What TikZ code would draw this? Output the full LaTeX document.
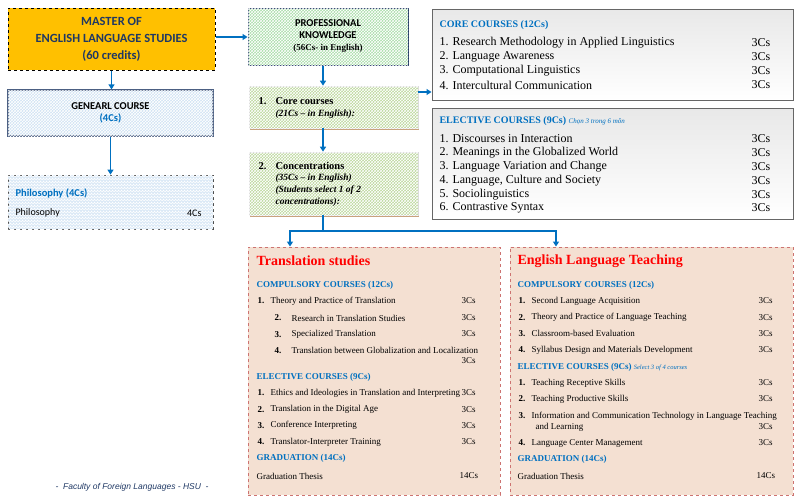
\documentclass[tikz,border=0pt]{standalone}
\usepackage{fontspec}
\setmainfont{Liberation Serif}
\newfontfamily\calib{Carlito}
\newfontfamily\arialf{Liberation Sans}
\usetikzlibrary{positioning,patterns,shadows,arrows.meta}

\definecolor{hsublue}{HTML}{0070C0}
\definecolor{navyblue}{HTML}{1F3864}
\definecolor{masterfill}{HTML}{FFC000}
\definecolor{bluefill}{HTML}{CFE2F3}
\definecolor{profgreen}{HTML}{A9DDA9}
\definecolor{coregreen}{HTML}{BCD79C}
\definecolor{peach}{HTML}{F4E0D2}
\definecolor{peachedge}{HTML}{C0504D}
\definecolor{tanedge}{HTML}{C9A27E}
\definecolor{titlered}{HTML}{FF0000}

\tikzset{
  link/.style={draw=hsublue, line width=1.4pt, -{Triangle[length=5pt,width=6pt]}},
  plainlink/.style={draw=hsublue, line width=1.4pt},
  weave/.style={postaction={pattern=crosshatch, pattern color=white, fill opacity=0.55}},
  masterbox/.style={draw=black, dashed, line width=1pt, fill=masterfill,
    text=navyblue, align=center, font=\calib\bfseries\fontsize{12.5}{17}\selectfont},
  generalbox/.style={draw=navyblue!80, line width=1.2pt, fill=bluefill, weave, align=center},
  philobox/.style={draw=black!70, dashed, line width=0.8pt, fill=bluefill!75, weave},
  profbox/.style={draw=navyblue, line width=1pt, fill=profgreen, weave, align=center},
  stagebox/.style={draw=black!15, line width=0.6pt, fill=coregreen, weave,
    drop shadow={shadow xshift=1.2pt, shadow yshift=-1.8pt, fill=tanedge, opacity=1}},
  listbox/.style={draw=black!60, line width=1pt, top color=black!9, bottom color=white},
  trackbox/.style={draw=peachedge!80, dashed, line width=0.9pt, fill=peach},
  listhead/.style={anchor=west, text=hsublue, font=\bfseries\fontsize{10}{12}\selectfont},
  boxhead/.style={anchor=west, text=hsublue, font=\bfseries\fontsize{9}{11}\selectfont},
  courseitem/.style={anchor=west, font=\fontsize{12}{14}\selectfont},
  trackitem/.style={anchor=west, font=\fontsize{9}{11}\selectfont},
  tracknum/.style={anchor=west, font=\bfseries\fontsize{9}{11}\selectfont},
  tracktitle/.style={anchor=west, text=titlered, font=\bfseries\fontsize{14}{16}\selectfont}
}

\begin{document}
\begin{tikzpicture}[x=1pt,y=-1pt]
  \useasboundingbox (0,0) rectangle (800,501);

  % left column
  \node[masterbox, minimum width=207pt, minimum height=62pt] (master) at (111.5,39)
    {MASTER OF\\ENGLISH LANGUAGE STUDIES\\(60 credits)};
  \node[generalbox, minimum width=205pt, minimum height=46pt] (general) at (110.5,113)
    {\calib\bfseries\fontsize{10.5}{17}\selectfont GENEARL COURSE\\
     \calib\bfseries\fontsize{10.5}{17}\selectfont\color{hsublue}(4Cs)};
  \node[philobox, minimum width=205pt, minimum height=54pt] (philo) at (110.5,202) {};
  \node[anchor=west, text=hsublue, font=\calib\bfseries\fontsize{10.5}{12}\selectfont]
    (philohead) at (12,193) {Philosophy (4Cs)};
  \node[anchor=west, font=\calib\fontsize{10}{12}\selectfont] (philoitem) at (12,213) {Philosophy};
  \node[anchor=east, font=\calib\fontsize{10}{12}\selectfont] (philocs) at (205,213) {4Cs};

  % middle column
  \node[profbox, minimum width=160pt, minimum height=57pt] (prof) at (328,36.5)
    {\calib\bfseries\fontsize{10.5}{15}\selectfont PROFESSIONAL\\
     \calib\bfseries\fontsize{10.5}{15}\selectfont KNOWLEDGE\\
     \bfseries\fontsize{9}{12}\selectfont (56Cs- in English)};
  \node[stagebox, minimum width=169pt, minimum height=42pt] (core) at (333.5,107) {};
  \node[anchor=west, font=\bfseries\fontsize{10.5}{12}\selectfont] (corenum) at (255,101) {1.};
  \node[anchor=west, font=\bfseries\fontsize{10.5}{12}\selectfont] (corehead) at (272,101) {Core courses};
  \node[anchor=west, font=\bfseries\itshape\fontsize{9.5}{11}\selectfont] (coresub) at (272,114) {(21Cs – in English):};
  \node[stagebox, minimum width=169pt, minimum height=63pt] (conc) at (333.5,183.5) {};
  \node[anchor=west, font=\bfseries\fontsize{10.5}{12}\selectfont] (concnum) at (255,166) {2.};
  \node[anchor=north west, align=left, font=\bfseries\fontsize{10.5}{12}\selectfont] (conchead) at (272,159)
    {Concentrations\\[-1pt]
     \itshape\fontsize{9.5}{13}\selectfont (35Cs – in English)\\
     \itshape\fontsize{9.5}{13}\selectfont (Students select 1 of 2\\
     \itshape\fontsize{9.5}{13}\selectfont concentrations):};

  % core and elective lists
  \node[listbox, minimum width=361pt, minimum height=91pt] (corebox) at (612.5,54.5) {};
  \node[listhead] (corelisthead) at (436,25) {CORE COURSES (12Cs)};
  \foreach \t [count=\i] in {Research Methodology in Applied Linguistics, Language Awareness,
      Computational Linguistics, Intercultural Communication} {
    \node[courseitem] (core\i) at (436,43+14*\i-14) {\i. \t};
    \node[courseitem] (corecs\i) at (748,43+14*\i-14) {3Cs};
  }
  \node[listbox, minimum width=361pt, minimum height=111pt] (elecbox) at (612.5,163.5) {};
  \node[listhead] (eleclisthead) at (436,121)
    {ELECTIVE COURSES (9Cs) \mdseries\itshape\fontsize{7}{8}\selectfont Chọn 3 trong 6 môn};
  \foreach \t [count=\i] in {Discourses in Interaction, Meanings in the Globalized World,
      Language Variation and Change, {Language, Culture and Society}, Sociolinguistics,
      Contrastive Syntax} {
    \node[courseitem] (elec\i) at (436,139+13.8*\i-13.8) {\i. \t};
    \node[courseitem] (eleccs\i) at (748,139+13.8*\i-13.8) {3Cs};
  }

  % translation studies
  \node[trackbox, minimum width=252pt, minimum height=248pt] (trans) at (374,371) {};
  \node[tracktitle] (transtitle) at (253,261) {Translation studies};
  \node[boxhead] (transcomp) at (253,285) {COMPULSORY COURSES (12Cs)};
  \node[tracknum] (tc1n) at (254,301) {1.};
  \node[trackitem] (tc1) at (267,301) {Theory and Practice of Translation};
  \foreach \t [count=\i from 2] in {Research in Translation Studies, Specialized Translation,
      Translation between Globalization and Localization} {
    \node[tracknum] (tc\i n) at (271,318+16.3*\i-32.6) {\i.};
    \node[trackitem] (tc\i) at (288,318+16.3*\i-32.6) {\t};
  }
  \foreach \y in {301,318,334,361}
    \node[trackitem] at (458,\y) {3Cs};
  \node[boxhead] (transelec) at (253,377) {ELECTIVE COURSES (9Cs)};
  \foreach \t [count=\i] in {Ethics and Ideologies in Translation and Interpreting,
      Translation in the Digital Age, Conference Interpreting, Translator-Interpreter Training} {
    \node[tracknum] (te\i n) at (254,393+16.3*\i-16.3) {\i.};
    \node[trackitem] (te\i) at (267,393+16.3*\i-16.3) {\t};
    \node[trackitem] (te\i cs) at (458,393+16.3*\i-16.3) {3Cs};
  }
  \node[boxhead] (transgrad) at (253,458) {GRADUATION (14Cs)};
  \node[trackitem] (transthesis) at (253,476) {Graduation Thesis};
  \node[trackitem] (transthesiscs) at (456,476) {14Cs};

  % english language teaching
  \node[trackbox, minimum width=283pt, minimum height=248pt] (elt) at (651.5,371) {};
  \node[tracktitle] (elttitle) at (514,261) {English Language Teaching};
  \node[boxhead] (eltcomp) at (514,285) {COMPULSORY COURSES (12Cs)};
  \foreach \t [count=\i] in {Second Language Acquisition, Theory and Practice of Language Teaching,
      Classroom-based Evaluation, Syllabus Design and Materials Development} {
    \node[tracknum] (ec\i n) at (515,301+16.3*\i-16.3) {\i.};
    \node[trackitem] (ec\i) at (528,301+16.3*\i-16.3) {\t};
    \node[trackitem] (ec\i cs) at (755,301+16.3*\i-16.3) {3Cs};
  }
  \node[boxhead] (eltelec) at (514,367)
    {ELECTIVE COURSES (9Cs) \mdseries\itshape\fontsize{6.5}{8}\selectfont Select 3 of 4 courses};
  \node[tracknum] (ee1n) at (515,383) {1.};
  \node[trackitem] (ee1) at (528,383) {Teaching Receptive Skills};
  \node[tracknum] (ee2n) at (515,399) {2.};
  \node[trackitem] (ee2) at (528,399) {Teaching Productive Skills};
  \node[tracknum] (ee3n) at (515,416) {3.};
  \node[trackitem] (ee3) at (528,416) {Information and Communication Technology in Language Teaching};
  \node[trackitem] (ee3b) at (532,427) {and Learning};
  \node[tracknum] (ee4n) at (515,443) {4.};
  \node[trackitem] (ee4) at (528,443) {Language Center Management};
  \foreach \y in {383,399,427,443}
    \node[trackitem] at (755,\y) {3Cs};
  \node[boxhead] (eltgrad) at (514,459) {GRADUATION (14Cs)};
  \node[trackitem] (eltthesis) at (514,476) {Graduation Thesis};
  \node[trackitem] (eltthesiscs) at (753,476) {14Cs};

  % footer
  \node[anchor=west, text=navyblue, font=\arialf\itshape\fontsize{8.5}{10}\selectfont] (footer)
    at (52,487) {-~ Faculty of Foreign Languages - HSU ~-};

  % connectors
  \draw[link] (master.east |- 0,37) -- (prof.west |- 0,37);
  \draw[link] (master.south) -- (master.south |- general.north);
  \draw[link] (general.south) -- (philo.north);
  \draw[link] ([xshift=-5pt]prof.south) -- ([xshift=-10.5pt]core.north);
  \draw[link] ([yshift=15pt]core.east) -- ([yshift=15pt]core.east -| corebox.west);
  \draw[link] ([xshift=-10.5pt]core.south) -- ([xshift=-10.5pt]conc.north);
  \coordinate (fork) at (323,231);
  \draw[plainlink] ([xshift=-10.5pt]conc.south) -- (fork);
  \draw[link] (fork) -| ([xshift=-84pt]trans.north);
  \draw[link] (fork) -| ([xshift=-95.5pt]elt.north);
\end{tikzpicture}
\end{document}
